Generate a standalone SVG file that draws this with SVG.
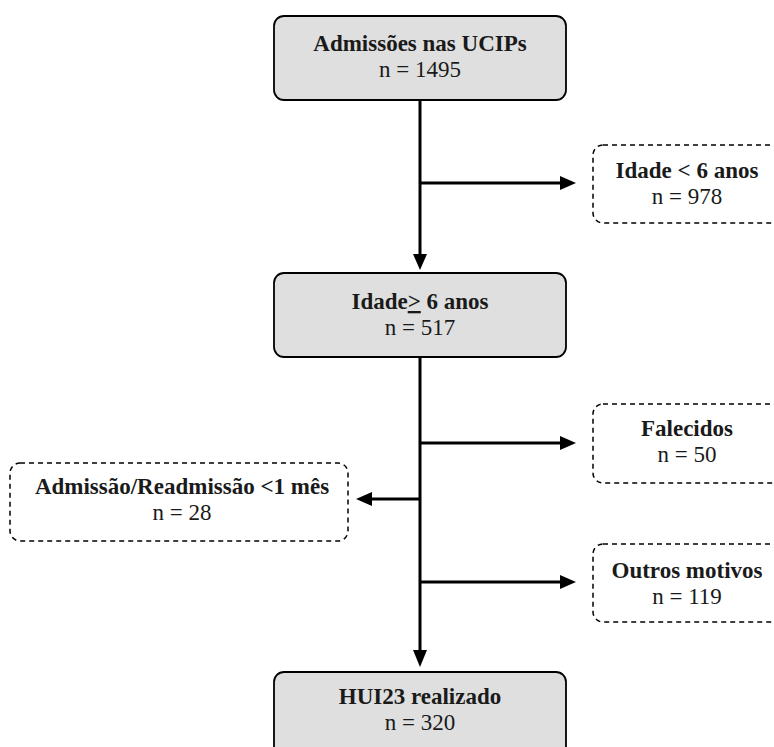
<svg xmlns="http://www.w3.org/2000/svg" width="774" height="747" viewBox="0 0 774 747">
<defs>
<style>
.main{fill:#dfdfdf;stroke:#000;stroke-width:1.8}
.excl{fill:#fff;stroke:#000;stroke-width:1.5;stroke-dasharray:5 4}
.t{font-family:"Liberation Serif","Times New Roman",serif;font-size:23px;fill:#1a1a1a;text-anchor:middle}
.b{font-weight:bold}
.ln{stroke:#000;stroke-width:3;fill:none}
.ah{fill:#000}
</style>
</defs>
<rect width="774" height="747" fill="#fff"/>
<g id="connectors">
<line class="ln" x1="420" y1="100" x2="420" y2="256"/>
<polygon class="ah" points="413,254 427,254 420,270"/>
<line class="ln" x1="420" y1="183" x2="562" y2="183"/>
<polygon class="ah" points="560,176 560,190 576,183"/>
<line class="ln" x1="420" y1="357" x2="420" y2="652"/>
<polygon class="ah" points="413,650 427,650 420,667"/>
<line class="ln" x1="420" y1="443" x2="562" y2="443"/>
<polygon class="ah" points="560,436 560,450 576,443"/>
<line class="ln" x1="420" y1="499" x2="370" y2="499"/>
<polygon class="ah" points="372,492 372,506 356,499"/>
<line class="ln" x1="420" y1="582" x2="562" y2="582"/>
<polygon class="ah" points="560,575 560,589 576,582"/>
</g>
<g id="n_admissoes">
<rect class="main" x="274" y="16" width="292" height="84" rx="10"/>
<text class="t b" x="420" y="51">Admissões nas UCIPs</text>
<text class="t" x="420" y="77">n = 1495</text>
</g>
<g id="n_idade_menor6">
<rect class="excl" x="593" y="145" width="190" height="78" rx="10"/>
<text class="t b" x="687" y="178">Idade &lt; 6 anos</text>
<text class="t" x="687" y="204">n = 978</text>
</g>
<g id="n_idade_maior6">
<rect class="main" x="274" y="273" width="292" height="84" rx="10"/>
<text class="t b" x="420" y="309">Idade<tspan text-decoration="underline">&gt;</tspan> 6 anos</text>
<text class="t" x="420" y="335">n = 517</text>
</g>
<g id="n_falecidos">
<rect class="excl" x="593" y="404" width="190" height="79" rx="10"/>
<text class="t b" x="687" y="436">Falecidos</text>
<text class="t" x="687" y="462">n = 50</text>
</g>
<g id="n_readmissao">
<rect class="excl" x="10" y="463" width="338" height="78" rx="10"/>
<text class="t b" x="182" y="494">Admissão/Readmissão &lt;1 mês</text>
<text class="t" x="182" y="520">n = 28</text>
</g>
<g id="n_outros">
<rect class="excl" x="593" y="544" width="190" height="78" rx="10"/>
<text class="t b" x="687" y="578">Outros motivos</text>
<text class="t" x="687" y="604">n = 119</text>
</g>
<g id="n_hui23">
<rect class="main" x="274" y="672" width="292" height="90" rx="10"/>
<text class="t b" x="420" y="704">HUI23 realizado</text>
<text class="t" x="420" y="730">n = 320</text>
</g>
</svg>
